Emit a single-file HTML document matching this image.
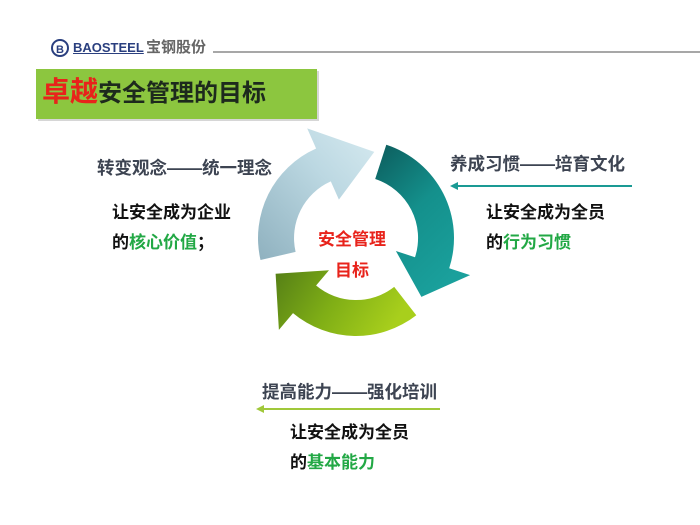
<!DOCTYPE html>
<html><head><meta charset="utf-8"><style>
html,body{margin:0;padding:0;background:#fff}
body{width:700px;height:525px;position:relative;overflow:hidden;font-family:"Liberation Sans","Noto Sans CJK SC",sans-serif}
.t{position:absolute;white-space:nowrap;font-weight:bold;line-height:1}
.h{font-size:17.5px;color:#3d4452}
.b{font-size:17px;color:#111}
.g{color:#22a845}
</style></head><body>
<svg width="700" height="525" style="position:absolute;left:0;top:0">
<defs>
<linearGradient id="gb" x1="0" y1="1" x2="1" y2="0"><stop offset="0" stop-color="#8fb1bf"/><stop offset="0.6" stop-color="#bcd8e2"/><stop offset="1" stop-color="#d6eaf0"/></linearGradient>
<linearGradient id="gt" x1="0" y1="0" x2="0.6" y2="1"><stop offset="0" stop-color="#0c5c5c"/><stop offset="0.5" stop-color="#14908c"/><stop offset="1" stop-color="#1aa09c"/></linearGradient>
<linearGradient id="gg" x1="0" y1="0" x2="1" y2="0.3"><stop offset="0" stop-color="#557f16"/><stop offset="0.5" stop-color="#7fae16"/><stop offset="1" stop-color="#a8cf1c"/></linearGradient>
<linearGradient id="ln1" x1="0" x2="1"><stop offset="0" stop-color="#a9cdd8" stop-opacity="0.3"/><stop offset="0.5" stop-color="#8ab8c6"/><stop offset="1" stop-color="#a9cdd8" stop-opacity="0.3"/></linearGradient>
</defs>
<line x1="213" y1="52" x2="700" y2="52" stroke="#8a8a8a" stroke-width="1.5"/>
<rect x="38" y="71" width="281" height="50" fill="#bbb" opacity="0.6"/>
<rect x="36" y="69" width="281" height="50" fill="#8cc63f"/>
<g id="arrows"></g>
<line x1="95" y1="185" x2="292" y2="185" stroke="url(#ln1)" stroke-width="2"/>
<line x1="455" y1="186" x2="632" y2="186" stroke="#1a9a94" stroke-width="2"/>
<polygon points="450,186 458,182 458,190" fill="#1a9a94"/>
<line x1="262" y1="409" x2="440" y2="409" stroke="#a0c83a" stroke-width="2"/>
<polygon points="256,409 264,405 264,413" fill="#a0c83a"/>
<circle cx="60" cy="48" r="8" fill="none" stroke="#2a3f7f" stroke-width="2"/>
<text x="56" y="53" font-size="11" font-weight="bold" fill="#2a3f7f" font-family="Liberation Sans">B</text>
</svg>
<div class="t" style="left:73px;top:41px;font-size:13px;color:#2a3f7f;text-decoration:underline">BAOSTEEL</div>
<div class="t" style="left:146px;top:40px;font-size:15px;color:#666">宝钢股份</div>
<div class="t" style="left:42px;top:78px;font-size:28px;color:#e8231b">卓越<span style="font-size:24px;color:#1d2a1d">安全管理的目标</span></div>
<div class="t h" style="left:97px;top:160px">转变观念——统一理念</div>
<div class="t b" style="left:112px;top:204px">让安全成为企业</div>
<div class="t b" style="left:112px;top:234px">的<span class="g">核心价值</span>；</div>
<div class="t h" style="left:450px;top:156px">养成习惯——培育文化</div>
<div class="t b" style="left:486px;top:204px">让安全成为全员</div>
<div class="t b" style="left:486px;top:234px">的<span class="g">行为习惯</span></div>
<div class="t h" style="left:262px;top:384px">提高能力——强化培训</div>
<div class="t b" style="left:290px;top:424px">让安全成为全员</div>
<div class="t b" style="left:290px;top:454px">的<span class="g">基本能力</span></div>
<div class="t" style="left:318px;top:231px;font-size:17px;color:#e8231b">安全管理</div>
<div class="t" style="left:335px;top:262px;font-size:17px;color:#e8231b">目标</div>
<script>
(function(){
var cx=356,cy=238,R=98,r=62,m=80;
function p(a,rr){var t=a*Math.PI/180;return (cx+rr*Math.cos(t)).toFixed(1)+','+(cy+rr*Math.sin(t)).toFixed(1);}
function arrow(a1,a2,a3,fill){
 var lg=(a2-a1)>180?1:0;
 return '<path d="M'+p(a1,R)+' A'+R+','+R+' 0 '+lg+' 1 '+p(a2,R)+' L'+p(a2,120)+' L'+p(a3,m+8)+' L'+p(a2,42)+' L'+p(a2,r)+' A'+r+','+r+' 0 '+lg+' 0 '+p(a1,r)+' Z" fill="'+fill+'"/>';
}
document.getElementById('arrows').innerHTML=
 arrow(167,246,282,'url(#gb)')+arrow(288,378,402,'url(#gt)')+arrow(52,130,156,'url(#gg)');
})();
</script>
</body></html>
